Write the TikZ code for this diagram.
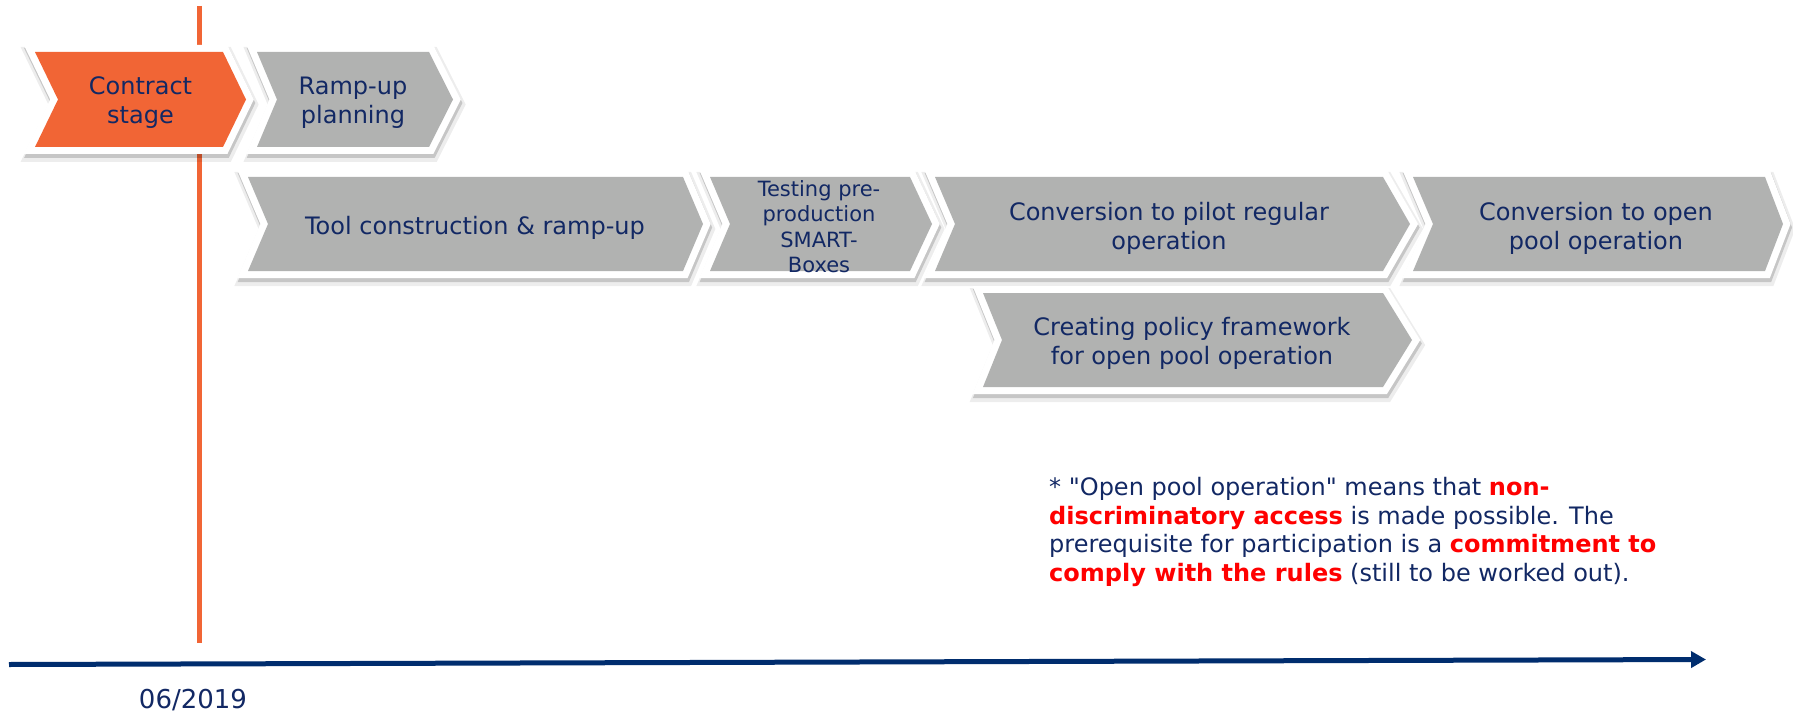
\documentclass[tikz,border=0pt]{standalone}
\usepackage{fontspec}
\setmainfont{DejaVu Sans}[Ligatures=TeXOff]
\usetikzlibrary{arrows.meta}
\definecolor{chevgray}{RGB}{177,178,177}
\definecolor{chevorange}{RGB}{241,101,53}
\definecolor{navytext}{RGB}{18,40,100}
\definecolor{axisnavy}{RGB}{0,45,110}
\definecolor{notered}{RGB}{255,0,0}
\tikzset{
  chevshadowA/.style={draw=black, line width=20pt, opacity=0.07, line join=miter},
  chevshadowB/.style={draw=black, line width=15pt, opacity=0.16, line join=miter},
  chevborder/.style={draw=white, fill=white, line width=14pt, line join=miter},
  chevlabel/.style={text=navytext, font=\fontsize{24}{29}\selectfont, align=center, inner sep=0pt},
  smalllabel/.style={text=navytext, font=\fontsize{21}{25.5}\selectfont, align=center, inner sep=0pt},
  orangeline/.style={draw=chevorange, line width=5pt},
  timeaxis/.style={draw=axisnavy, line width=5pt, -{Triangle[length=15pt,width=16pt]}},
  notetext/.style={text=navytext, font=\fontsize{24}{28.5}\selectfont, align=left, inner sep=0pt, anchor=north west},
  datelabel/.style={text=navytext, font=\fontsize{26}{30}\selectfont, inner sep=0pt}
}
\newcommand\hlred[1]{\textcolor{notered}{\textbf{#1}}}
% #1 left x, #2 notch x, #3 corner x, #4 tip x, #5 top y, #6 bottom y, #7 fill
\newcommand\mkchev[7]{%
  \pgfmathsetmacro\chvmid{(#5+#6)/2}%
  \path[chevshadowA, shift={(1.5,5)}] (#1,#5) -- (#3,#5) -- (#4,\chvmid) -- (#3,#6) -- (#1,#6) -- (#2,\chvmid) -- cycle;
  \path[chevshadowB, shift={(1,3.5)}] (#1,#5) -- (#3,#5) -- (#4,\chvmid) -- (#3,#6) -- (#1,#6) -- (#2,\chvmid) -- cycle;
  \path[chevborder] (#1,#5) -- (#3,#5) -- (#4,\chvmid) -- (#3,#6) -- (#1,#6) -- (#2,\chvmid) -- cycle;
  \path[fill=#7] (#1,#5) -- (#3,#5) -- (#4,\chvmid) -- (#3,#6) -- (#1,#6) -- (#2,\chvmid) -- cycle;
}
\begin{document}
\begin{tikzpicture}[x=1pt,y=-1pt]
\useasboundingbox[fill=white] (0,0) rectangle (1793,714);

% vertical orange marker (behind chevrons)
\coordinate (vtop) at (199,6);
\coordinate (vbot) at (199,643);
\draw[orangeline] (vtop) -- (vbot);

% row 1
\mkchev{35}{58}{223}{246}{52}{147}{chevorange}
\mkchev{257}{277}{429}{453}{52}{147}{chevgray}
\node[chevlabel] (contract) at (140.5,103) {Contract\\stage};
\node[chevlabel] (rampup) at (353,103) {Ramp-up\\planning};

% row 2
\mkchev{248}{268}{683}{703}{177}{271}{chevgray}
\mkchev{710}{730}{910}{932}{177}{271}{chevgray}
\mkchev{935}{955}{1383}{1410}{177}{271}{chevgray}
\mkchev{1413}{1433}{1765}{1783}{177}{271}{chevgray}
\node[chevlabel] (tool) at (475,228) {Tool construction \& ramp-up};
\node[smalllabel] (testing) at (819,226.5) {Testing pre-\\production\\SMART-\\Boxes};
\node[chevlabel] (pilot) at (1169,228) {Conversion to pilot regular\\operation};
\node[chevlabel] (openpool) at (1596,228) {Conversion to open\\pool operation};

% row 3
\mkchev{983}{1002}{1383}{1412}{293}{387}{chevgray}
\node[chevlabel] (policy) at (1192,343) {Creating policy framework\\for open pool operation};

% note
\node[notetext] (note) at (1049,477.5) {* "Open pool operation" means that \hlred{non-}\\
\hlred{discriminatory access} is made possible. The\\
prerequisite for participation is a \hlred{commitment to}\\
\hlred{comply with the rules} (still to be worked out).};

% time axis
\coordinate (tl0) at (9,664.5);
\coordinate (tl1) at (1706,659.5);
\draw[timeaxis] (tl0) -- (tl1);
\node[datelabel] (date) at (193,700) {06/2019};
\end{tikzpicture}
\end{document}
